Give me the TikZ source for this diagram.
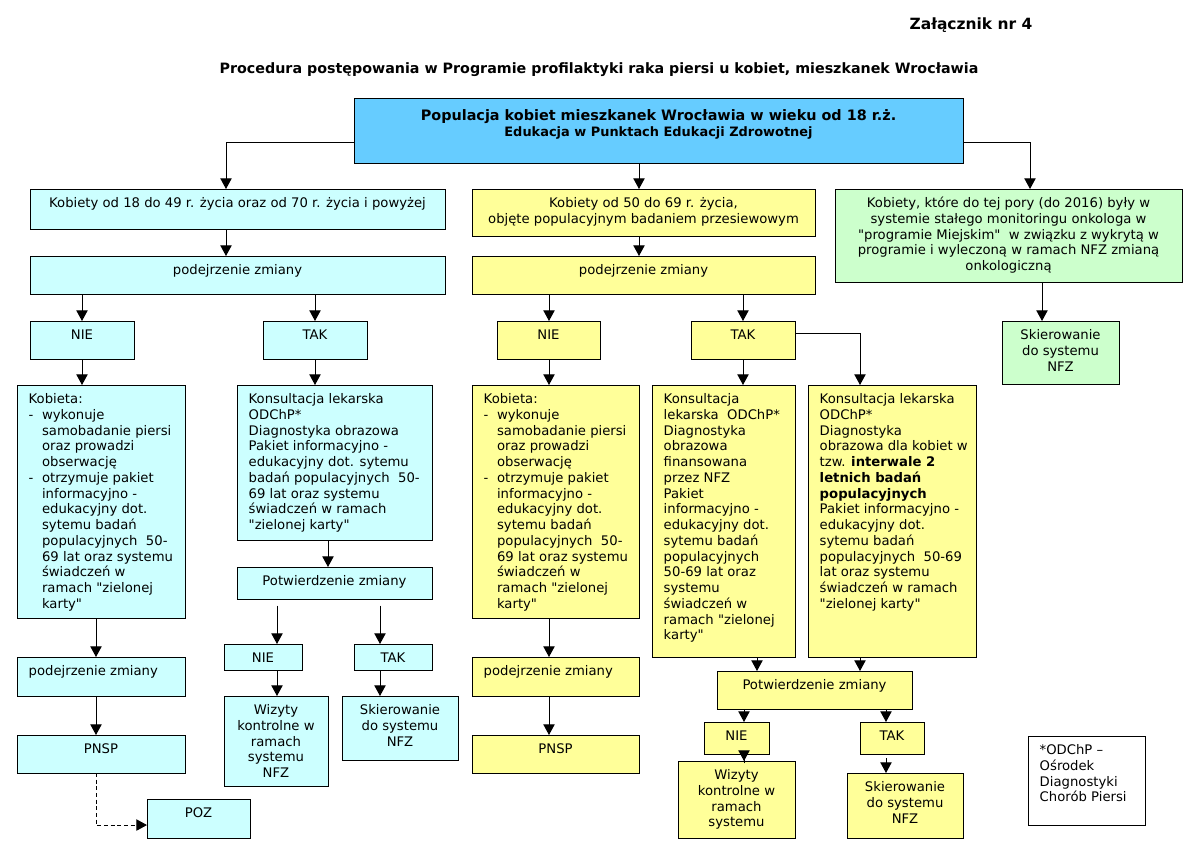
\documentclass[tikz,border=0pt]{standalone}
\usepackage{fontspec}
\setmainfont{DejaVu Sans}[Ligatures=TeXOff]
\usetikzlibrary{arrows.meta,fit}
\definecolor{topblue}{HTML}{66CCFF}
\definecolor{cyanf}{HTML}{CCFFFF}
\definecolor{yellowf}{HTML}{FFFF99}
\definecolor{greenf}{HTML}{CCFFCC}
\newcommand\FS{\fontsize{9.9}{11.8}\selectfont}
\newcommand\DSH{\makebox[10pt][l]{-}}
\newcommand\IND{\hspace*{10pt}}
\newcommand\BX[6]{\node[#6, fit={(#2,#3) (#4,#5)}] (#1) {};}
\newcommand\CT[3]{\node[ctxt] (#1) at ([yshift=-5.6pt]#2.north) {\strut #3};}
\newcommand\LT[3]{\node[ltxt] (#1) at ([xshift=8.6pt,yshift=-5.6pt]#2.north west) {\strut #3};}
\begin{document}
\begin{tikzpicture}[x=0.75pt,y=-0.75pt,
  box/.style={draw=black, line width=0.75pt, inner sep=0pt, outer sep=0pt},
  topb/.style={box, fill=topblue},
  cb/.style={box, fill=cyanf},
  yb/.style={box, fill=yellowf},
  gb/.style={box, fill=greenf},
  wb/.style={box, fill=white},
  ctxt/.style={inner sep=0pt, anchor=north, align=center, font=\FS},
  ltxt/.style={inner sep=0pt, anchor=north west, align=left, font=\FS},
  arr/.style={line width=0.75pt, -{Triangle[length=8pt,width=8.5pt]}},
  ttl/.style={inner sep=0pt, font=\bfseries\fontsize{11.6}{14}\selectfont},
  sub/.style={inner sep=0pt, font=\bfseries\fontsize{10.7}{13}\selectfont}]
\fill[white] (0,0) rectangle (1188,845);
\useasboundingbox (0,0) rectangle (1188,845);

\node[ttl] (title) at (971,25) {Załącznik nr 4};
\node[sub] (subtitle) at (599,70) {Procedura postępowania w Programie profilaktyki raka piersi u kobiet, mieszkanek Wrocławia};

% boxes
\BX{top}{354}{99}{963}{164}{topb}
\BX{c1}{30}{189}{445}{229}{cb}
\BX{y1}{472}{189}{815}{236}{yb}
\BX{g1}{835}{189}{1182}{282}{gb}
\BX{cp}{30}{256}{445}{294}{cb}
\BX{yp}{472}{256}{815}{294}{yb}
\BX{cn}{30}{321}{134}{359}{cb}
\BX{ct}{263}{321}{367}{359}{cb}
\BX{yn}{497}{321}{600}{359}{yb}
\BX{yt}{691}{321}{795}{359}{yb}
\BX{gs}{1002}{321}{1119}{384}{gb}
\BX{ck}{17}{385}{185}{618}{cb}
\BX{cc}{237}{385}{432}{540}{cb}
\BX{yk}{472}{385}{639}{618}{yb}
\BX{yc1}{652}{385}{795}{657}{yb}
\BX{yc2}{808}{385}{976}{657}{yb}
\BX{cpot}{237}{567}{432}{599}{cb}
\BX{cn2}{224}{644}{302}{670}{cb}
\BX{ct2}{354}{644}{432}{670}{cb}
\BX{cw}{224}{696}{328}{786}{cb}
\BX{cs}{342}{696}{458}{760}{cb}
\BX{cpz}{17}{657}{185}{696}{cb}
\BX{cpn}{17}{735}{185}{773}{cb}
\BX{cpoz}{147}{799}{250}{838}{cb}
\BX{ypz}{472}{657}{639}{696}{yb}
\BX{ypn}{472}{735}{639}{773}{yb}
\BX{ypot}{717}{671}{912}{709}{yb}
\BX{yn2}{704}{722}{769}{754}{yb}
\BX{yt2}{860}{722}{924}{754}{yb}
\BX{yw}{678}{761}{795}{838}{yb}
\BX{ys}{847}{773}{963}{838}{yb}
\BX{note}{1028}{736}{1145}{825}{wb}

% texts
\node[inner sep=0pt, anchor=north, align=center, font=\bfseries\fontsize{10.8}{12}\selectfont] (top-t) at ([yshift=-7.35pt]top.north)
  {\strut Populacja kobiet mieszkanek Wrocławia w wieku od 18 r.ż.\\ {\fontsize{9.7}{12}\selectfont Edukacja w Punktach Edukacji Zdrowotnej}};
\CT{c1-t}{c1}{Kobiety od 18 do 49 r. życia oraz od 70 r. życia i powyżej}
\CT{y1-t}{y1}{Kobiety od 50 do 69 r. życia,\\ objęte populacyjnym badaniem przesiewowym}
\CT{g1-t}{g1}{Kobiety, które do tej pory (do 2016) były w\\ systemie stałego monitoringu onkologa w\\ "programie Miejskim"\ \ w związku z wykrytą w\\ programie i wyleczoną w ramach NFZ zmianą\\ onkologiczną}
\CT{cp-t}{cp}{podejrzenie zmiany}
\CT{yp-t}{yp}{podejrzenie zmiany}
\CT{cn-t}{cn}{NIE}
\CT{ct-t}{ct}{TAK}
\CT{yn-t}{yn}{NIE}
\CT{yt-t}{yt}{TAK}
\CT{gs-t}{gs}{Skierowanie\\ do systemu\\ NFZ}
\LT{ck-t}{ck}{Kobieta:\\ \DSH wykonuje\\ \IND samobadanie piersi\\ \IND oraz prowadzi\\ \IND obserwację\\ \DSH otrzymuje pakiet\\ \IND informacyjno -\\ \IND edukacyjny dot.\\ \IND sytemu badań\\ \IND populacyjnych\ \ 50-\\ \IND 69 lat oraz systemu\\ \IND świadczeń w\\ \IND ramach "zielonej\\ \IND karty"}
\LT{cc-t}{cc}{Konsultacja lekarska\\ ODChP*\\ Diagnostyka obrazowa\\ Pakiet informacyjno -\\ edukacyjny dot. sytemu\\ badań populacyjnych\ \ 50-\\ 69 lat oraz systemu\\ świadczeń w ramach\\ "zielonej karty"}
\LT{yk-t}{yk}{Kobieta:\\ \DSH wykonuje\\ \IND samobadanie piersi\\ \IND oraz prowadzi\\ \IND obserwację\\ \DSH otrzymuje pakiet\\ \IND informacyjno -\\ \IND edukacyjny dot.\\ \IND sytemu badań\\ \IND populacyjnych\ \ 50-\\ \IND 69 lat oraz systemu\\ \IND świadczeń w\\ \IND ramach "zielonej\\ \IND karty"}
\LT{yc1-t}{yc1}{Konsultacja\\ lekarska\ \ ODChP*\\ Diagnostyka\\ obrazowa\\ finansowana\\ przez NFZ\\ Pakiet\\ informacyjno -\\ edukacyjny dot.\\ sytemu badań\\ populacyjnych\\ 50-69 lat oraz\\ systemu\\ świadczeń w\\ ramach "zielonej\\ karty"}
\LT{yc2-t}{yc2}{Konsultacja lekarska\\ ODChP*\\ Diagnostyka\\ obrazowa dla kobiet w\\ tzw. \textbf{interwale 2}\\ \textbf{letnich badań}\\ \textbf{populacyjnych}\\ Pakiet informacyjno -\\ edukacyjny dot.\\ sytemu badań\\ populacyjnych\ \ 50-69\\ lat oraz systemu\\ świadczeń w ramach\\ "zielonej karty"}
\CT{cpot-t}{cpot}{Potwierdzenie zmiany}
\CT{cn2-t}{cn2}{NIE}
\CT{ct2-t}{ct2}{TAK}
\CT{cw-t}{cw}{Wizyty\\ kontrolne w\\ ramach\\ systemu\\ NFZ}
\CT{cs-t}{cs}{Skierowanie\\ do systemu\\ NFZ}
\LT{cpz-t}{cpz}{podejrzenie zmiany}
\CT{cpn-t}{cpn}{PNSP}
\CT{cpoz-t}{cpoz}{POZ}
\LT{ypz-t}{ypz}{podejrzenie zmiany}
\CT{ypn-t}{ypn}{PNSP}
\CT{ypot-t}{ypot}{Potwierdzenie zmiany}
\CT{yn2-t}{yn2}{NIE}
\CT{yt2-t}{yt2}{TAK}
\CT{yw-t}{yw}{Wizyty\\ kontrolne w\\ ramach\\ systemu}
\CT{ys-t}{ys}{Skierowanie\\ do systemu\\ NFZ}
\LT{note-t}{note}{*ODChP –\\ Ośrodek\\ Diagnostyki\\ Chorób Piersi}

% connectors
\draw[arr] ([yshift=-8.6pt]top.west) -| (226,0 |- c1.north);
\draw[arr] (639,0 |- top.south) -- (639,0 |- y1.north);
\draw[arr] ([yshift=-8.6pt]top.east) -| (1030,0 |- g1.north);
\draw[arr] (226,0 |- c1.south) -- (226,0 |- cp.north);
\draw[arr] (639,0 |- y1.south) -- (639,0 |- yp.north);
\draw[arr] (82,0 |- cp.south) -- (82,0 |- cn.north);
\draw[arr] (315,0 |- cp.south) -- (315,0 |- ct.north);
\draw[arr] (549,0 |- yp.south) -- (549,0 |- yn.north);
\draw[arr] (743,0 |- yp.south) -- (743,0 |- yt.north);
\draw[arr] (1042,0 |- g1.south) -- (1042,0 |- gs.north);
\draw[arr] (82,0 |- cn.south) -- (82,0 |- ck.north);
\draw[arr] (315,0 |- ct.south) -- (315,0 |- cc.north);
\draw[arr] (549,0 |- yn.south) -- (549,0 |- yk.north);
\draw[arr] (743,0 |- yt.south) -- (743,0 |- yc1.north);
\draw[arr] ([yshift=5.25pt]yt.east) -| (860,0 |- yc2.north);
\draw[arr] (96,0 |- ck.south) -- (96,0 |- cpz.north);
\draw[arr] (96,0 |- cpz.south) -- (96,0 |- cpn.north);
\draw[arr, dash pattern=on 3pt off 2pt] (96,0 |- cpn.south) |- ([yshift=-4.9pt]cpoz.west);
\draw[arr] (328,0 |- cc.south) -- (328,0 |- cpot.north);
\draw[arr, shorten <=5pt] (277,0 |- cpot.south) -- (277,0 |- cn2.north);
\draw[arr, shorten <=5pt] (380,0 |- cpot.south) -- (380,0 |- ct2.north);
\draw[arr] (277,0 |- cn2.south) -- (277,0 |- cw.north);
\draw[arr] (380,0 |- ct2.south) -- (380,0 |- cs.north);
\draw[arr] (549,0 |- yk.south) -- (549,0 |- ypz.north);
\draw[arr] (549,0 |- ypz.south) -- (549,0 |- ypn.north);
\draw[arr] (757,0 |- yc1.south) -- (757,0 |- ypot.north);
\draw[arr] (860,0 |- yc2.south) -- (860,0 |- ypot.north);
\draw[arr] (744,0 |- ypot.south) -- (744,0 |- yn2.north);
\draw[arr] (886,0 |- ypot.south) -- (886,0 |- yt2.north);
\draw[arr, shorten <=-7pt] (744,0 |- yn2.south) -- (744,0 |- yw.north);
\draw[arr, shorten <=3pt] (886,0 |- yt2.south) -- (886,0 |- ys.north);
\end{tikzpicture}
\end{document}
